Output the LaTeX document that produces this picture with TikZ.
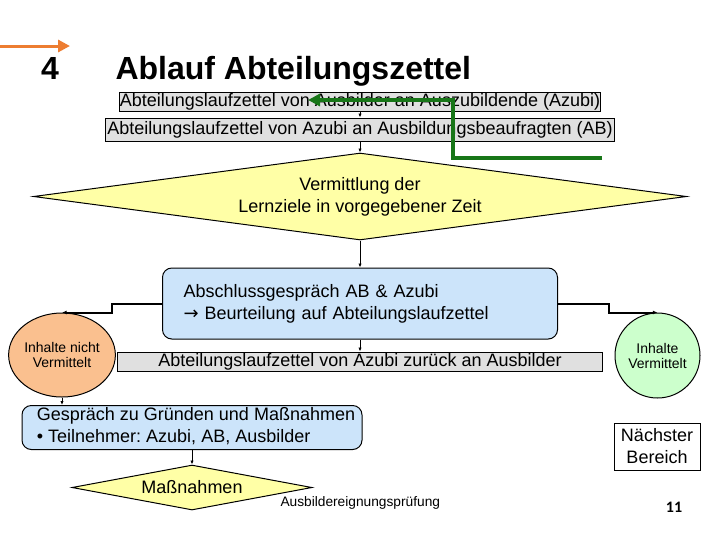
\documentclass[tikz,border=0pt]{standalone}
\usepackage{fontspec}
\setmainfont{Liberation Sans}
\newfontfamily\pagenumfont{Carlito}
\newfontfamily\arrowfont{DejaVu Sans}
\usetikzlibrary{shapes.geometric,arrows.meta}
\frenchspacing

\definecolor{boxgray}{RGB}{224,224,224}
\definecolor{diayellow}{RGB}{255,255,166}
\definecolor{talkblue}{RGB}{204,228,250}
\definecolor{notorange}{RGB}{250,192,143}
\definecolor{okgreen}{RGB}{204,255,204}
\definecolor{arrorange}{RGB}{237,125,49}
\definecolor{backgreen}{RGB}{24,118,24}

\tikzset{every picture/.style={line width=0.75pt}}
\tikzset{
  slipbox/.style={draw, fill=boxgray, inner sep=0pt, font=\fontsize{13.5}{16.5}\selectfont},
  decide/.style={diamond, draw, fill=diayellow, inner sep=0pt, align=center, font=\fontsize{13.5}{16.5}\selectfont},
  talkbox/.style={draw, fill=talkblue, rounded corners=7pt, inner ysep=0pt, font=\fontsize{13.5}{16.5}\selectfont},
  result/.style={ellipse, draw, inner sep=0pt, align=center, font=\fontsize{10.5}{11.25}\selectfont},
  conn/.style={-{Latex[length=3pt,width=2.5pt]}},
  elbow/.style={line width=1.5pt, -{Latex[length=3.5pt,width=3pt]}},
}

\begin{document}
\begin{tikzpicture}[x=0.75pt,y=0.75pt,yscale=-1,xscale=1]
\useasboundingbox (0,0) rectangle (720,540);

% Arrow
\coordinate (startA) at (0,46);
\coordinate (endA) at (70,46);
\draw [arrorange, line width=2.25pt, -{Triangle[length=9pt,width=9pt]}] (startA) -- (endA) ;

% Text Node
\node [anchor=base, inner sep=0pt, font=\bfseries\fontsize{24}{28}\selectfont] (num) at (50,79) {4};
% Text Node
\node [anchor=base west, inner sep=0pt, font=\bfseries\fontsize{24}{28}\selectfont] (title) at (115,79) {Ablauf Abteilungszettel};

% Slip boxes
\node [slipbox, minimum width=360pt, minimum height=14.25pt] (toazubi) at (360,101.5) {Abteilungslaufzettel von Ausbilder an Auszubildende (Azubi)};
\node [slipbox, minimum width=381.75pt, minimum height=17.25pt] (toab) at (360,129.5) {Abteilungslaufzettel von Azubi an Ausbildungsbeaufragten (AB)};

% Decision
\node [decide, aspect=7.5, minimum width=489.75pt, minimum height=65.25pt] (learn) at (360,196.5) {Vermittlung der\\Lernziele in vorgegebener Zeit};

% Talk box
\node [talkbox, align=left, text width=264.75pt, inner xsep=15.75pt, minimum height=53.25pt] (final) at (360,303.5) {Abschlussgespräch AB \& Azubi\\{\arrowfont →} Beurteilung auf Abteilungslaufzettel};

% Results
\node [result, fill=notorange, minimum width=65.25pt, minimum height=63pt] (notdone) at (62,355) {Inhalte nicht\\Vermittelt};
\node [result, fill=okgreen, minimum width=63.75pt, minimum height=63.75pt] (done) at (657.5,355.5) {Inhalte\\Vermittelt};

\node [slipbox, minimum width=363.75pt, minimum height=14.25pt] (back) at (360,361.5) {Abteilungslaufzettel von Azubi zurück an Ausbilder};

% Talk box
\node [talkbox, inner xsep=0pt, minimum width=255pt, minimum height=29.25pt] (reasons) at (192,427.5) {\begin{tabular}{@{\hspace{6pt}}l@{}}Gespräch zu Gründen und Maßnahmen\\• Teilnehmer: Azubi, AB, Ausbilder\end{tabular}};

% Decision
\node [decide, aspect=5.3, minimum width=180pt, minimum height=33.75pt] (steps) at (192,487.5) {Maßnahmen};

% Text Node
\node [anchor=west, inner sep=0pt, font=\fontsize{10.3}{12}\selectfont] (exam) at (280,503) {Ausbildereignungsprüfung};
% Text Node
\node [draw, fill=white, align=center, inner sep=0pt, minimum width=64.5pt, minimum height=35.25pt, font=\fontsize{13.5}{16.5}\selectfont] (next) at (657,446.5) {Nächster\\Bereich};
% Text Node
\node [font=\pagenumfont\bfseries\fontsize{12}{14}\selectfont] (page) at (674,507) {11};

% Connection
\draw [conn] (toazubi) -- (toab) ;
% Connection
\draw [conn] (toab) -- (learn) ;
% Connection
\draw [conn] (learn) -- (final) ;
% Connection
\draw [conn] (final) -- (back) ;
% Connection
\draw [elbow] (final.west) -- ++(-50,0) |- (notdone.north) ;
% Connection
\draw [elbow] (final.east) -- ++(51,0) |- (done.north) ;
% Connection
\draw [conn] (notdone.south) -- (notdone.south |- reasons.north) ;
% Connection
\draw [conn] (reasons) -- (steps) ;

% Return line
\coordinate (retS) at (602,158);
\coordinate (retK) at (453,100);
\coordinate (retE) at (308,100);
\draw [backgreen, line width=3pt, -{Triangle[length=9pt,width=9pt]}] (retS) -| (retK) -- (retE) ;

\end{tikzpicture}
\end{document}
